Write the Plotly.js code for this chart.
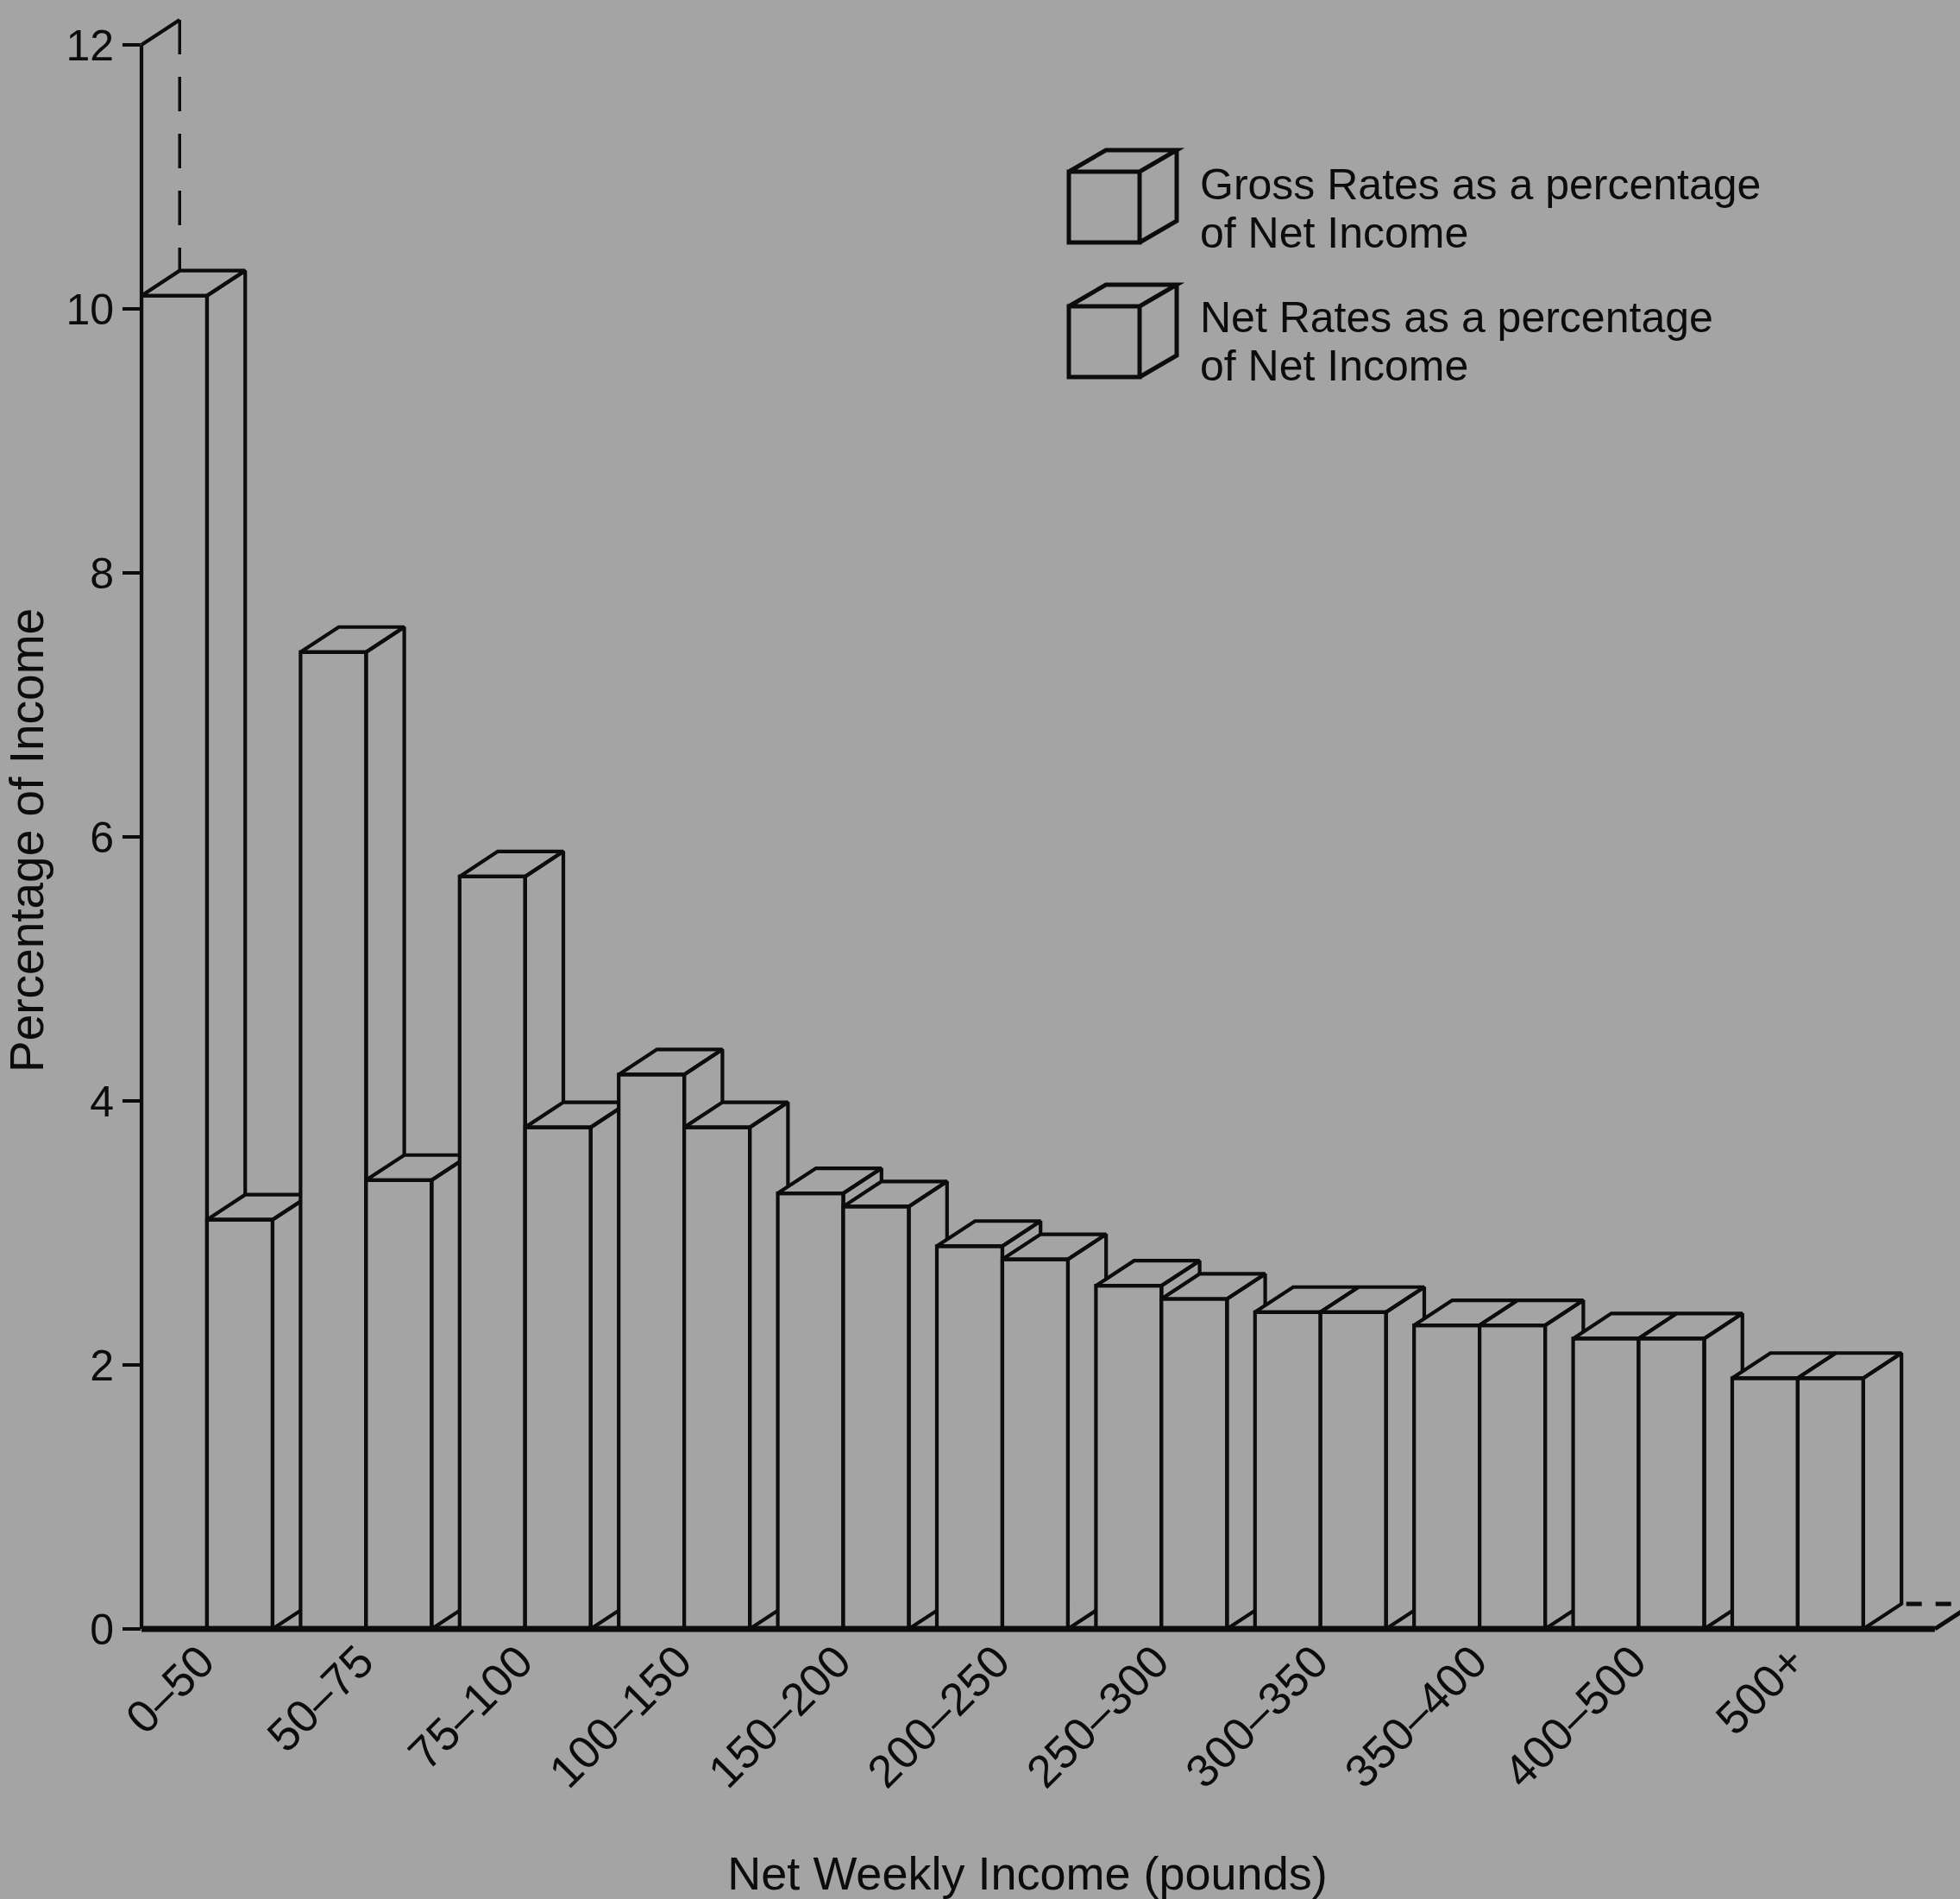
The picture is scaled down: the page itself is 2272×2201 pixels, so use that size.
<!DOCTYPE html>
<html>
<head>
<meta charset="utf-8">
<script src="https://cdn.plot.ly/plotly-3.0.1.min.js"></script>
<style>
  html, body { margin: 0; padding: 0; background: #a4a4a4; }
  #chart { width: 2272px; height: 2201px; }
</style>
</head>
<body>
<div id="chart"></div>
<script>
// ---- Data ----
const categories = ['0–50', '50–75', '75–100', '100–150', '150–200', '200–250',
                    '250–300', '300–350', '350–400', '400–500', '500+'];
const grossRates = [10.1, 7.4, 5.7, 4.2, 3.3, 2.9, 2.6, 2.4, 2.3, 2.2, 1.9];
const netRates   = [3.1, 3.4, 3.8, 3.8, 3.2, 2.8, 2.5, 2.4, 2.3, 2.2, 1.9];
const yTickValues = [0, 2, 4, 6, 8, 10, 12];
const seriesNames = ['Gross Rates as a percentage', 'Net Rates as a percentage'];
const legendSecondLine = 'of Net Income';

// ---- Styling / geometry ----
const BG = '#a4a4a4';
const INK = '#0c0c0c';
const FONT = 'Liberation Sans, Arial, Helvetica, sans-serif';
const BAR_W = 0.412;   // front width of one bar (x units)
const DX = 0.24;       // 3D depth offset (x units)
const DY = 0.19;       // 3D depth offset (y units)
const LW = 4.2;

const W = 2272, H = 2201;
const M = {l: 164, r: 54, t: 45, b: 298};
const XR = [-BAR_W, 10.727];
const YR = [-0.098, 12.046];
const plotW = W - M.l - M.r, plotH = H - M.t - M.b;

// data -> paper helpers (for decorations drawn as paper shapes)
const px = x => (x - XR[0]) / (XR[1] - XR[0]);
const py = y => (y - YR[0]) / (YR[1] - YR[0]);
// pixel -> paper helpers (legend)
const ppx = p => (p - M.l) / plotW;
const ppy = p => (H - M.b - p) / plotH;

function boxTrace(x0, v, name) {
  const x1 = x0 + BAR_W;
  const xs = [x0, x1, x1, x0, x0, null,
              x0, x1, x1 + DX, x0 + DX, x0, null,
              x1, x1 + DX, x1 + DX, x1, x1];
  const ys = [0, 0, v, v, 0, null,
              v, v, v + DY, v + DY, v, null,
              0, DY, v + DY, v, 0];
  return {
    type: 'scatter', mode: 'lines', x: xs, y: ys, name: name,
    fill: 'toself', fillcolor: BG,
    line: {color: INK, width: LW},
    connectgaps: false, hoverinfo: 'skip', showlegend: false
  };
}

const traces = [];
for (let i = 0; i < categories.length; i++) {
  traces.push(boxTrace(i - BAR_W, grossRates[i], 'Gross ' + categories[i]));
  traces.push(boxTrace(i, netRates[i], 'Net ' + categories[i]));
}

// ---- decorations ----
const shapes = [];
const xL = XR[0];
const yTop = yTickValues[yTickValues.length - 1];
// y-axis line up to the top tick, with depth diagonal and dashed back edge
shapes.push({type: 'line', xref: 'paper', yref: 'paper',
  x0: px(xL), y0: py(0), x1: px(xL), y1: py(yTop), line: {color: INK, width: LW}});
shapes.push({type: 'line', xref: 'paper', yref: 'paper',
  x0: px(xL), y0: py(yTop), x1: px(xL + DX), y1: py(yTop + DY), line: {color: INK, width: LW}});
shapes.push({type: 'line', xref: 'paper', yref: 'paper',
  x0: px(xL + DX), y0: py(yTop + DY), x1: px(xL + DX), y1: py(grossRates[0] + DY),
  line: {color: INK, width: 3.5, dash: '40px,26px'}});
// floor (baseline + depth)
const xEnd = 10.862;
shapes.push({type: 'line', xref: 'paper', yref: 'paper',
  x0: px(xL), y0: py(0), x1: px(xEnd), y1: py(0), line: {color: INK, width: 7}});
shapes.push({type: 'line', xref: 'paper', yref: 'paper',
  x0: px(xEnd), y0: py(0), x1: px(xEnd + DX), y1: py(DY), line: {color: INK, width: 5}});
shapes.push({type: 'line', xref: 'paper', yref: 'paper',
  x0: px(10 + BAR_W + DX + 0.03), y0: py(DY), x1: px(xEnd + DX), y1: py(DY),
  line: {color: INK, width: 5, dash: '18px,16px'}});

// legend cubes (pixel geometry of the reference legend)
function cube(left, top, front, dep, dyp) {
  const r = left + front, b = top + front;
  const P = (x, y) => ppx(x) + ',' + ppy(y);
  const d = 'M' + P(left, top) + 'L' + P(r, top) + 'L' + P(r, b) + 'L' + P(left, b) + 'Z' +
            'M' + P(left, top) + 'L' + P(left + dep, top - dyp) + 'L' + P(r + dep, top - dyp) +
            'L' + P(r, top) +
            'M' + P(r + dep, top - dyp) + 'L' + P(r + dep, b - dyp) + 'L' + P(r, b);
  return {type: 'path', xref: 'paper', yref: 'paper', path: d,
          line: {color: INK, width: 5}, fillcolor: 'rgba(0,0,0,0)'};
}
shapes.push(cube(1239, 199, 82, 43, 25));
shapes.push(cube(1239, 355, 82, 43, 25));

const annotations = [];
const legendRows = [[seriesNames[0], 214], [legendSecondLine, 270],
                    [seriesNames[1], 368], [legendSecondLine, 424]];
legendRows.forEach(([t, yc]) => {
  annotations.push({xref: 'paper', yref: 'paper', x: ppx(1389), y: ppy(yc),
    xanchor: 'left', yanchor: 'middle', showarrow: false, text: t,
    font: {family: FONT, size: 50, color: INK}});
});

const layout = {
  width: W, height: H,
  margin: {l: M.l, r: M.r, t: M.t, b: M.b, pad: 0},
  paper_bgcolor: BG, plot_bgcolor: BG,
  font: {family: FONT, color: INK},
  showlegend: false,
  xaxis: {
    range: XR, tickvals: categories.map((c, i) => i), ticktext: categories,
    tickangle: -45, showgrid: false, zeroline: false, showline: false, ticks: '',
    ticklabelstandoff: -20, ticklabelshift: -7,
    tickfont: {family: FONT, size: 53, color: INK},
    title: {text: 'Net Weekly Income (pounds)', font: {family: FONT, size: 54, color: INK}, standoff: 80},
    fixedrange: true
  },
  yaxis: {
    range: YR, tickvals: yTickValues, showgrid: false, zeroline: false, showline: false,
    ticks: 'outside', ticklen: 21, tickwidth: 3.5, tickcolor: INK,
    ticklabelstandoff: 0,
    tickfont: {family: FONT, size: 50, color: INK},
    title: {text: 'Percentage of Income', font: {family: FONT, size: 55, color: INK}, standoff: 12},
    fixedrange: true
  },
  shapes: shapes,
  annotations: annotations
};

Plotly.newPlot('chart', traces, layout, {staticPlot: true, displayModeBar: false});
</script>
</body>
</html>
